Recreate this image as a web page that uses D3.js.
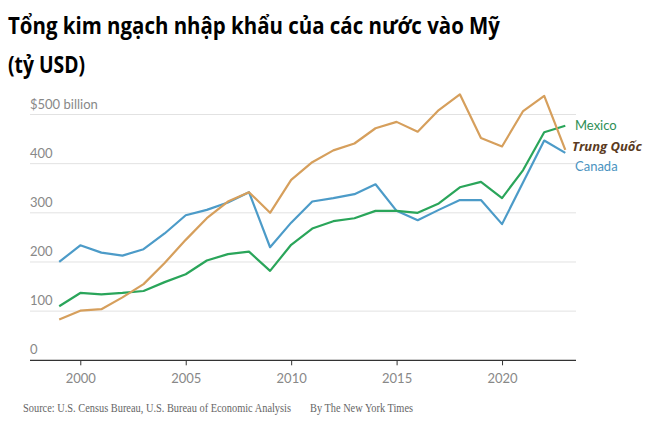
<!DOCTYPE html>
<html><head><meta charset="utf-8">
<script src="https://cdn.jsdelivr.net/npm/d3@7"></script>
<style>body{margin:0;background:#fff}svg{display:block}</style>
</head><body>
<svg id="c" width="670" height="448"></svg>
<script>
const years = d3.range(1999, 2024);
const canada = [200,234,219,213,226,258,295,306,321,342,230,280,323,330,338,358,304,285,306,326,326,277,362,447,422];
const mexico = [110,137,134,137,141,159,175,203,216,221,182,235,268,283,289,304,304,300,319,352,363,330,387,464,477];
const china  = [83,101,104,128,155,198,245,289,323,342,300,367,403,427,441,472,485,465,509,541,452,435,507,538,428];
const yTicks = [0,100,200,300,400,500];
const xTicks = [2000,2005,2010,2015,2020];
const series = [
  {name:"Canada", values:canada, color:"#4c9bc8"},
  {name:"Mexico", values:mexico, color:"#2aa55a"},
  {name:"Trung Quốc", values:china, color:"#d69f5c"}
];
const labels = [
  {text:"Mexico", val:477, color:"#2e8f55", style:"normal", weight:"normal", font:"Lato, 'Open Sans', sans-serif"},
  {text:"Trung Quốc", val:434, color:"#5a3a22", style:"italic", weight:"bold", font:"'Open Sans', sans-serif"},
  {text:"Canada", val:394, color:"#4a93c0", style:"normal", weight:"normal", font:"Lato, 'Open Sans', sans-serif"}
];

const svg = d3.select("#c");
const x = d3.scaleLinear().domain([1999, 2023]).range([59.2, 565.3]);
const y = d3.scaleLinear().domain([0, 500]).range([360.3, 114.5]);
const left = 30, right = 576;

// title
svg.append("text").attr("x", 8).attr("y", 34).attr("font-family","'Open Sans', sans-serif")
  .attr("font-weight","bold").attr("font-size", 24).attr("fill","#000")
  .attr("textLength", 492).attr("lengthAdjust","spacingAndGlyphs")
  .text("Tổng kim ngạch nhập khẩu của các nước vào Mỹ");
svg.append("text").attr("x", 8).attr("y", 73).attr("font-family","'Open Sans', sans-serif")
  .attr("font-weight","bold").attr("font-size", 24).attr("fill","#000")
  .attr("textLength", 77).attr("lengthAdjust","spacingAndGlyphs")
  .text("(tỷ USD)");

// gridlines
const g = svg.append("g");
g.selectAll("line.grid").data(yTicks.filter(d=>d>0)).join("line")
  .attr("x1", left).attr("x2", right).attr("y1", d=>y(d)).attr("y2", d=>y(d))
  .attr("stroke","#e2e2e2").attr("stroke-width",1);
g.selectAll("text.ylab").data(yTicks).join("text")
  .attr("x", left).attr("y", d=>y(d)-6)
  .attr("font-family","Lato, 'Open Sans', sans-serif").attr("font-size",13).attr("fill","#888")
  .text(d=> d===500 ? "$500 billion" : d);

// x axis
const xAxis = d3.axisBottom(x).tickValues(xTicks).tickFormat(d3.format("d")).tickSize(5).tickSizeOuter(0);
const ax = svg.append("g").attr("transform",`translate(0,${y(0)})`).call(xAxis);
ax.select(".domain").remove();
ax.append("line").attr("x1", left).attr("x2", right).attr("stroke","#333").attr("stroke-width",1.3);
ax.selectAll(".tick line").attr("stroke","#333");
ax.selectAll(".tick text").attr("font-family","Lato, 'Open Sans', sans-serif").attr("font-size",13).attr("fill","#888").attr("dy","1.1em");

// lines
const line = d3.line().x((d,i)=>x(years[i])).y(d=>y(d));
svg.selectAll("path.series").data(series).join("path")
  .attr("fill","none").attr("stroke",d=>d.color).attr("stroke-width",2.2)
  .attr("stroke-linejoin","round").attr("d", d=>line(d.values));

// labels
svg.selectAll("text.lab").data(labels).join("text")
  .attr("x", d=> d.style==="italic" ? 572 : 575).attr("y", d=>y(d.val)).attr("dy","0.35em")
  .attr("font-family", d=>d.font).attr("font-size",13)
  .attr("font-style", d=>d.style).attr("font-weight", d=>d.weight)
  .attr("fill", d=>d.color).text(d=>d.text);

// source
svg.append("text").attr("x",23).attr("y",412).attr("font-family","'Liberation Serif', serif")
  .attr("font-size",11.5).attr("fill","#666").attr("textLength",268).attr("lengthAdjust","spacingAndGlyphs")
  .text("Source: U.S. Census Bureau, U.S. Bureau of Economic Analysis");
svg.append("text").attr("x",310).attr("y",412).attr("font-family","'Liberation Serif', serif")
  .attr("font-size",11.5).attr("fill","#666").attr("textLength",103).attr("lengthAdjust","spacingAndGlyphs")
  .text("By The New York Times");
</script>
</body></html>
